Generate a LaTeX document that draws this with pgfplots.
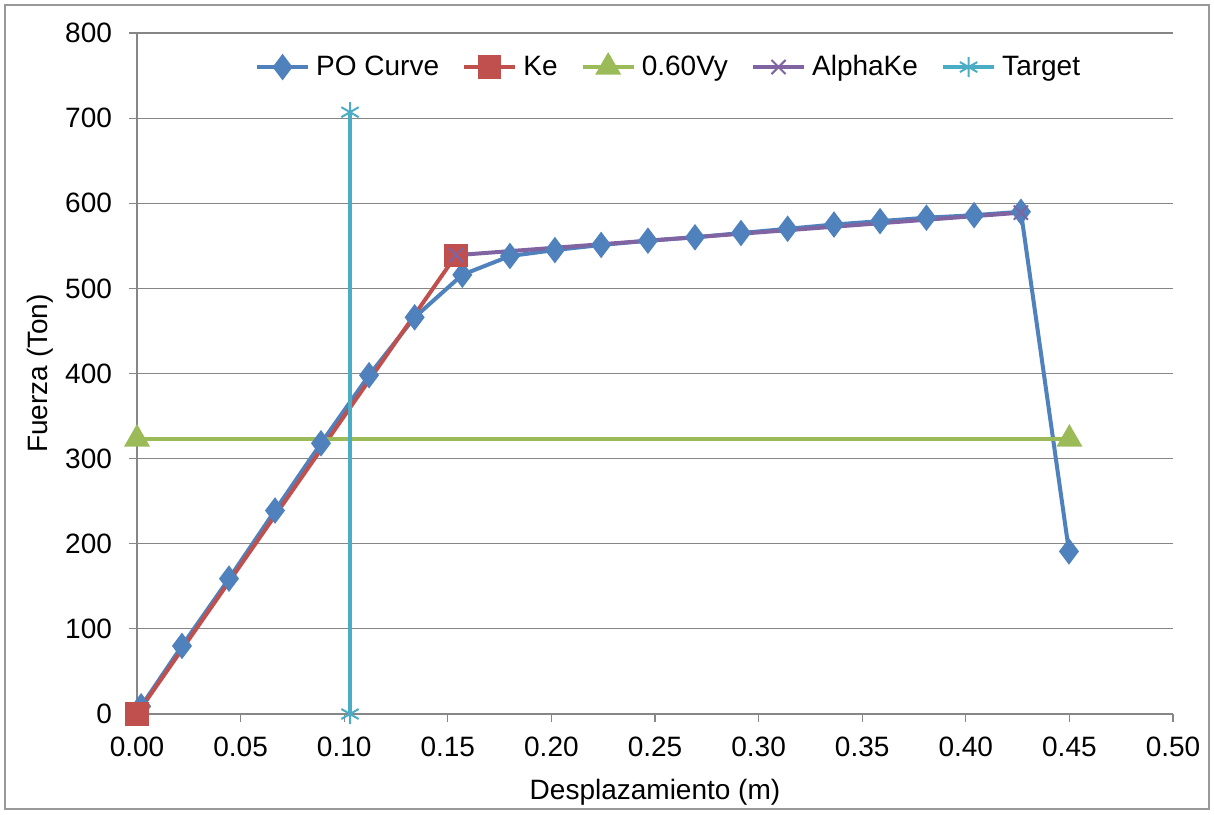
\documentclass[border=0pt]{standalone}
\usepackage{fontspec}
\setmainfont{Liberation Sans}
\usepackage{pgfplots}
\pgfplotsset{compat=1.18}
\definecolor{cblue}{HTML}{4F81BD}
\definecolor{cred}{HTML}{C0504D}
\definecolor{cgreen}{HTML}{9BBB59}
\definecolor{cpurple}{HTML}{8064A2}
\definecolor{ccyan}{HTML}{4BACC6}
\definecolor{gridg}{RGB}{134,134,134}
\begin{document}
\begin{tikzpicture}
\path (0,0) rectangle (607pt,407pt);
\draw[gray!80, line width=1.2pt] (2.5pt,2.5pt) rectangle (604.5pt,404.5pt);
\begin{axis}[
  at={(68.5pt,50pt)}, anchor=origin,
  scale only axis, width=518pt, height=340.5pt,
  xmin=0, xmax=0.5, ymin=0, ymax=800,
  xtick={0,0.05,...,0.5}, ytick={0,100,...,800},
  axis lines=left, axis line style={-, gridg, line width=0.6pt},
  ymajorgrids, grid style={gridg, line width=0.6pt},
  tick style={gridg, line width=0.6pt},
  tick align=outside, major tick length=4pt,
  x tick label style={yshift=-4pt, /pgf/number format/.cd, fixed, fixed zerofill, precision=2},
  y tick label style={xshift=-5pt},
  /pgf/number format/assume math mode=true,
  ticklabel style={font=\fontsize{14}{16}\selectfont},
  xlabel={Desplazamiento (m)}, ylabel={Fuerza (Ton)},
  label style={font=\fontsize{14}{16}\selectfont},
  xlabel style={yshift=-4.5pt},
  ylabel style={yshift=-1pt},
  legend columns=-1,
  legend style={draw=none, fill=none, at={(0.514,0.95)}, anchor=center,
    font=\fontsize{14}{16}\selectfont,
    /tikz/every odd column/.append style={column sep=1pt},
    /tikz/every even column/.append style={column sep=9.5pt}},
  legend image code/.code={\draw[mark repeat=2,mark phase=2] plot coordinates {(0cm,0cm) (0.45cm,0cm) (0.9cm,0cm)};},
  legend cell align=left,
  clip=false,
]
\addplot[cblue, line width=2pt, mark=diamond*, mark size=5pt, mark options={solid, fill=cblue}] coordinates {
(0.002,9) (0.0217,80) (0.0444,159) (0.0666,239) (0.0888,318) (0.112,398) (0.134,466) (0.157,516) (0.18,538) (0.2017,545) (0.224,551) (0.2466,556) (0.2693,560) (0.2915,565) (0.314,570) (0.3364,575) (0.3586,579) (0.381,583) (0.404,586) (0.4266,590) (0.4498,191)};
\addlegendentry{PO Curve}
\addplot[cred, line width=2pt, mark=square*, mark size=4.8pt, mark options={fill=cred}] coordinates {(0,0) (0.154,539)};
\addlegendentry{Ke}
\addplot[cgreen, line width=2pt, mark=triangle*, mark size=5.5pt, mark options={fill=cgreen}] coordinates {(0,323) (0.45,323)};
\addlegendentry{0.60Vy}
\addplot[cpurple, line width=2pt, mark=x, mark size=5pt, mark options={line width=1pt}] coordinates {(0.154,539) (0.4266,589)};
\addlegendentry{AlphaKe}
\addplot[ccyan, line width=2pt, mark=asterisk, mark size=5pt, mark options={line width=1pt}] coordinates {(0.1028,0) (0.1028,707)};
\addlegendentry{Target}
\end{axis}
\end{tikzpicture}
\end{document}
